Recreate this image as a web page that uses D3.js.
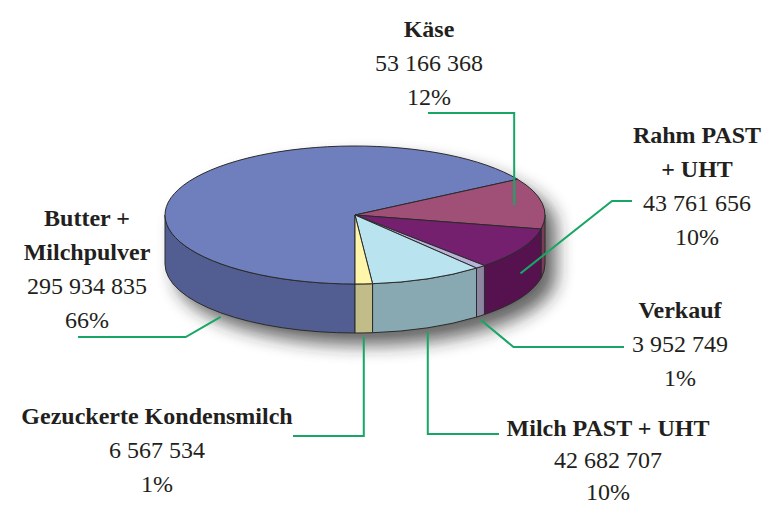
<!DOCTYPE html>
<html><head><meta charset="utf-8">
<script src="https://cdn.jsdelivr.net/npm/d3@7"></script>
<style>html,body{margin:0;padding:0;background:#fff;}svg{display:block}
.lbl{font-family:"Liberation Serif","Times New Roman",Times,Tinos,"DejaVu Serif","Noto Serif",Georgia,serif;}</style>
</head><body><svg id="chart" width="772" height="506"></svg>
<script>
// ---- data ----
const categories = ["Butter + Milchpulver", "Käse", "Rahm PAST + UHT", "Verkauf", "Milch PAST + UHT", "Gezuckerte Kondensmilch"];
const nameLines = [["Butter +", "Milchpulver"], ["Käse"], ["Rahm PAST", "+ UHT"], ["Verkauf"], ["Milch PAST + UHT"], ["Gezuckerte Kondensmilch"]];
const values = [295934835, 53166368, 43761656, 3952749, 42682707, 6567534];
const topColors = ["#6f7fbd", "#a05077", "#74206e", "#bab3d8", "#b9e4ef", "#fff6aa"];
const sideColors = ["#525e91", "#7c3a5b", "#56124f", "#8c86a3", "#88a9b1", "#c1bc88"];

// ---- layout ----
const W = 772, H = 506;
const cx = 355, cy = 215, rx = 190, ry = 69, depth = 49;
const lineH = 34;
const labelPos = [{x: 87, y: 226}, {x: 429, y: 37}, {x: 697, y: 143}, {x: 680, y: 318}, {x: 608, y: 436}, {x: 157, y: 424}];
const green = "#17a664";
const ink = "#231f20";

const svg = d3.select("#chart");
const defs = svg.append("defs");
defs.append("filter").attr("id", "blur").attr("x", "-30%").attr("y", "-30%").attr("width", "160%").attr("height", "160%")
  .append("feGaussianBlur").attr("stdDeviation", 9);

const total = d3.sum(values);
const fmt = d3.formatLocale({decimal: ",", thousands: " ", grouping: [3], currency: ["", ""]}).format(",d");
const pie = d3.pie().sort(null).startAngle(Math.PI).endAngle(3 * Math.PI).value(d => d);
const arcs = pie(values);

const P = (a, dy = 0, f = 1) => [cx + f * rx * Math.sin(a), cy - f * ry * Math.cos(a) + dy];
const front = [[Math.PI, 1.5 * Math.PI], [2.5 * Math.PI, 3 * Math.PI]];
function visible(d) {
  const out = [];
  front.forEach(([s, e]) => {
    const a = Math.max(s, d.startAngle), b = Math.min(e, d.endAngle);
    if (b > a) out.push([a, b]);
  });
  return out;
}

// shadow
svg.append("path")
  .attr("d", `M${cx - rx},${cy} A${rx},${ry} 0 0 1 ${cx + rx},${cy} L${cx + rx},${cy + depth} A${rx},${ry} 0 0 1 ${cx - rx},${cy + depth} Z`)
  .attr("transform", "translate(11,12)")
  .attr("fill", "#222").attr("opacity", 0.7).attr("filter", "url(#blur)");

const pieG = svg.append("g").attr("stroke", "#2b2b2b").attr("stroke-width", 1).attr("stroke-linejoin", "round");

// side faces
arcs.forEach((d, i) => {
  visible(d).forEach(([s, e]) => {
    const p0 = P(s), p1 = P(e), q1 = P(e, depth), q0 = P(s, depth);
    pieG.append("path")
      .attr("d", `M${p0} A${rx},${ry} 0 0 1 ${p1} L${q1} A${rx},${ry} 0 0 0 ${q0} Z`)
      .attr("fill", sideColors[i]);
  });
});

// top faces
arcs.forEach((d, i) => {
  const p0 = P(d.startAngle), p1 = P(d.endAngle);
  const large = (d.endAngle - d.startAngle) > Math.PI ? 1 : 0;
  pieG.append("path")
    .attr("d", `M${cx},${cy} L${p0} A${rx},${ry} 0 ${large} 1 ${p1} Z`)
    .attr("fill", topColors[i]);
});

// leader lines
function anchor(i) {
  const d = arcs[i];
  const v = visible(d);
  if (i === 1) { const m = (d.startAngle + d.endAngle) / 2; return P(m, 0, 0.85); }
  const [s, e] = v.length ? v[0] : [d.startAngle, d.endAngle];
  const m = (s + e) / 2;
  if (i === 2) return P(m, depth / 2);
  return P(m, depth + 4);
}
const routes = [
  a => [a, [a[0] - 35, 337], [78, 337]],
  a => [a, [a[0], 113], [428, 113]],
  a => [a, [612, 201], [632, 201]],
  a => [a, [a[0] + 33, 347], [624, 347]],
  a => [a, [a[0], 434], [499, 434]],
  a => [a, [a[0], 436], [293, 436]]
];
const line = d3.line();
routes.forEach((r, i) => {
  svg.append("path").attr("d", line(r(anchor(i))))
    .attr("fill", "none").attr("stroke", green).attr("stroke-width", 2);
});

// labels
categories.forEach((c, i) => {
  const g = svg.append("text")
    .attr("class", "lbl")
    .attr("text-anchor", "middle")
    .attr("fill", ink);
  const lines = nameLines[i].map(t => ({t, b: true}))
    .concat([{t: fmt(values[i]), b: false}, {t: Math.round(values[i] / total * 100) + "%", b: false}]);
  const lh = i === 4 ? 32 : lineH;
  lines.forEach((l, k) => {
    g.append("tspan")
      .attr("x", labelPos[i].x)
      .attr("y", labelPos[i].y + k * lh)
      .style("font-size", "24px")
      .style("font-weight", l.b ? "bold" : "normal")
      .text(l.t);
  });
});
</script>
</body></html>
